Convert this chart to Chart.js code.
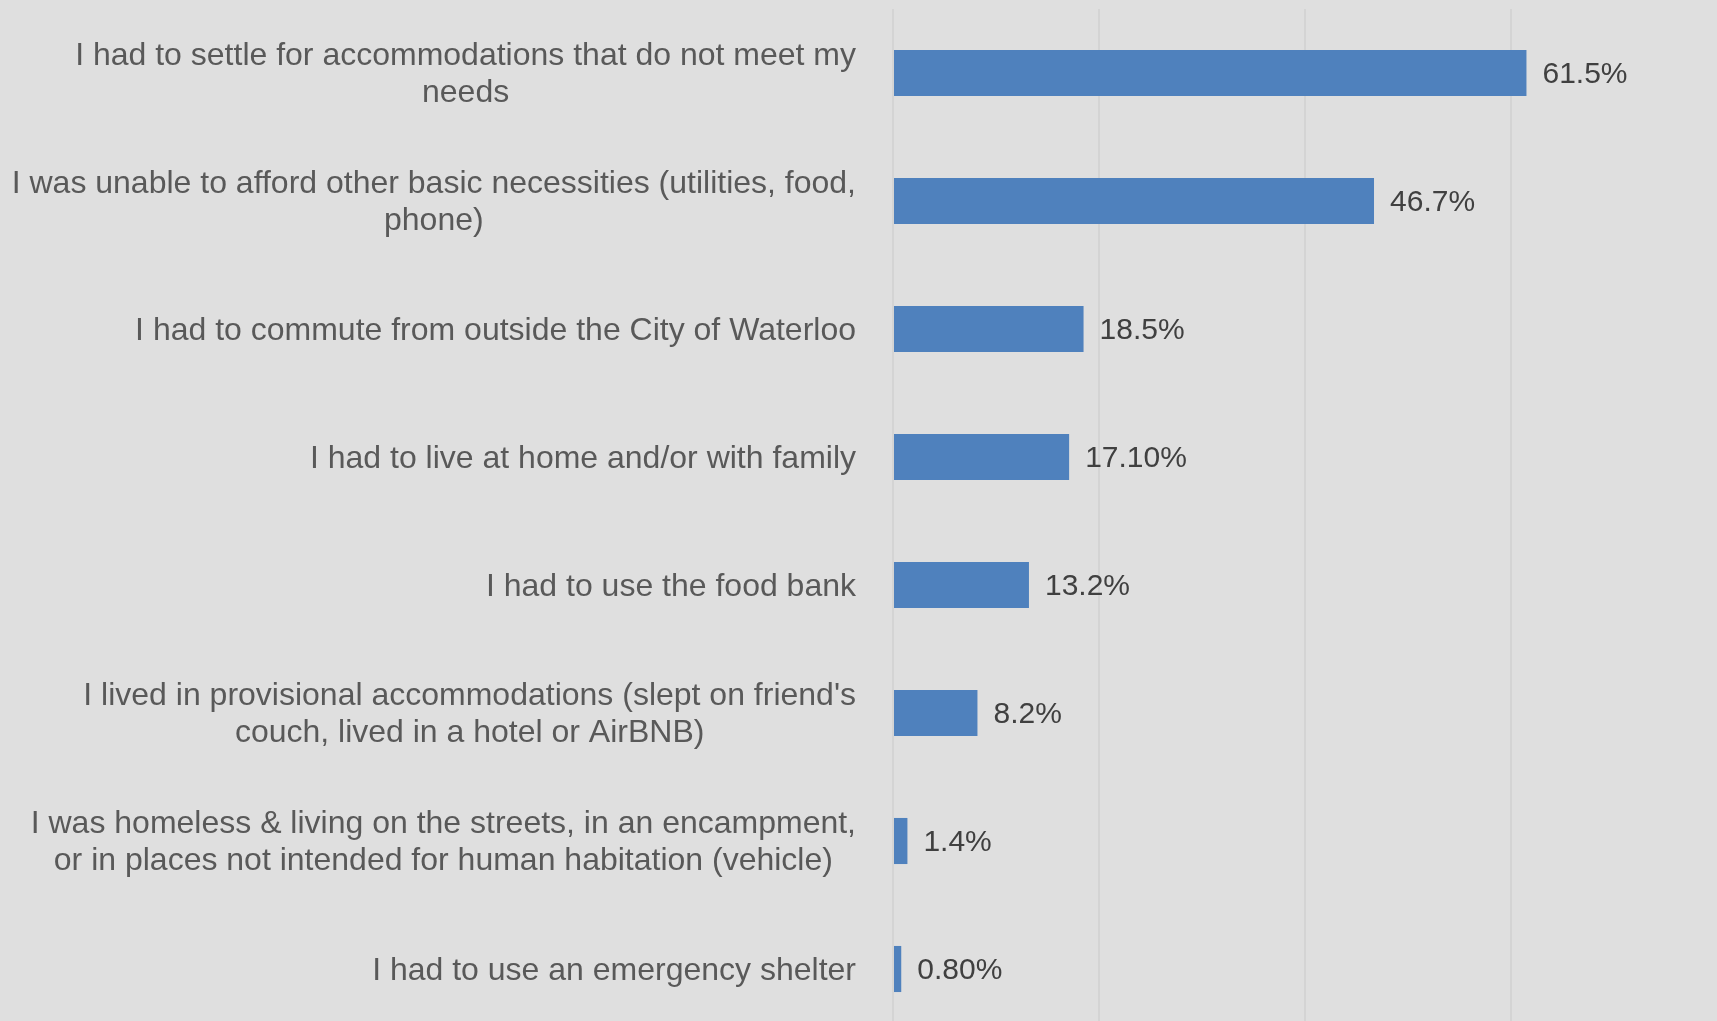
<!DOCTYPE html>
<html>
<head>
<meta charset="utf-8">
<script src="https://cdn.jsdelivr.net/npm/chart.js@4.4.1/dist/chart.umd.min.js"></script>
<style>
  html, body { margin: 0; padding: 0; background: #dfdfdf; overflow: hidden; }
  #wrap { width: 1717px; height: 1021px; overflow: hidden; }
</style>
</head>
<body>
<div id="wrap"><canvas id="chart" width="1717" height="1033"></canvas></div>
<script>
// categories (multi-line ones split the way the picture wraps them)
const categories = [
  ['I had to settle for accommodations that do not meet my', 'needs'],
  ['I was unable to afford other basic necessities (utilities, food,', 'phone)'],
  ['I had to commute from outside the City of Waterloo'],
  ['I had to live at home and/or with family'],
  ['I had to use the food bank'],
  ["I lived in provisional accommodations (slept on friend's", 'couch, lived in a hotel or AirBNB)'],
  ['I was homeless & living on the streets, in an encampment,', 'or in places not intended for human habitation (vehicle)'],
  ['I had to use an emergency shelter'],
];
const values = [61.5, 46.7, 18.5, 17.1, 13.2, 8.2, 1.4, 0.8];
const valueLabels = ['61.5%', '46.7%', '18.5%', '17.10%', '13.2%', '8.2%', '1.4%', '0.80%'];

const FONT = '"Liberation Sans", Arial, sans-serif';

// category labels: right edge fixed, lines centred on each other (like Excel)
const categoryLabels = {
  id: 'categoryLabels',
  afterDraw(chart) {
    const ctx = chart.ctx;
    const y = chart.scales.y;
    const right = chart.chartArea.left - 37;
    const lineH = 37;
    ctx.save();
    ctx.font = '32px ' + FONT;
    ctx.fillStyle = '#595959';
    ctx.textAlign = 'center';
    ctx.textBaseline = 'middle';
    chart.data.labels.forEach((lines, i) => {
      const cy = y.getPixelForTick(i) + 2;
      const widest = Math.max(...lines.map(l => ctx.measureText(l).width));
      const cx = right - widest / 2;
      const y0 = cy - (lines.length - 1) * lineH / 2;
      lines.forEach((l, j) => ctx.fillText(l, cx, y0 + j * lineH));
    });
    ctx.restore();
  },
};

const valueTags = {
  id: 'valueTags',
  afterDatasetsDraw(chart) {
    const ctx = chart.ctx;
    const meta = chart.getDatasetMeta(0);
    ctx.save();
    ctx.font = '30px ' + FONT;
    ctx.fillStyle = '#404040';
    ctx.textAlign = 'left';
    ctx.textBaseline = 'middle';
    meta.data.forEach((bar, i) => {
      ctx.fillText(valueLabels[i], bar.x + 16, bar.y + 2);
    });
    ctx.restore();
  },
};

new Chart(document.getElementById('chart'), {
  type: 'bar',
  data: {
    labels: categories,
    datasets: [{
      data: values,
      backgroundColor: '#4f81bd',
      borderWidth: 0,
      barPercentage: 0.36,
      categoryPercentage: 1,
    }],
  },
  options: {
    indexAxis: 'y',
    responsive: false,
    animation: false,
    devicePixelRatio: 1,
    layout: { padding: { top: 9, right: 0, bottom: 0, left: 0 } },
    scales: {
      x: {
        min: 0,
        max: 80,
        ticks: { display: false, stepSize: 20 },
        grid: {
          color: c => (c.tick && c.tick.value === 80 ? 'rgba(0,0,0,0)' : '#d4d4d4'),
          lineWidth: 2,
          drawTicks: false,
        },
        border: { display: false },
        afterFit: s => { s.height = 0; },
      },
      y: {
        ticks: { display: false },
        grid: { display: false, drawTicks: false },
        border: { display: false },
        afterFit: s => { s.width = 893; },
      },
    },
    plugins: { legend: { display: false }, tooltip: { enabled: false } },
  },
  plugins: [categoryLabels, valueTags],
});
</script>
</body>
</html>
